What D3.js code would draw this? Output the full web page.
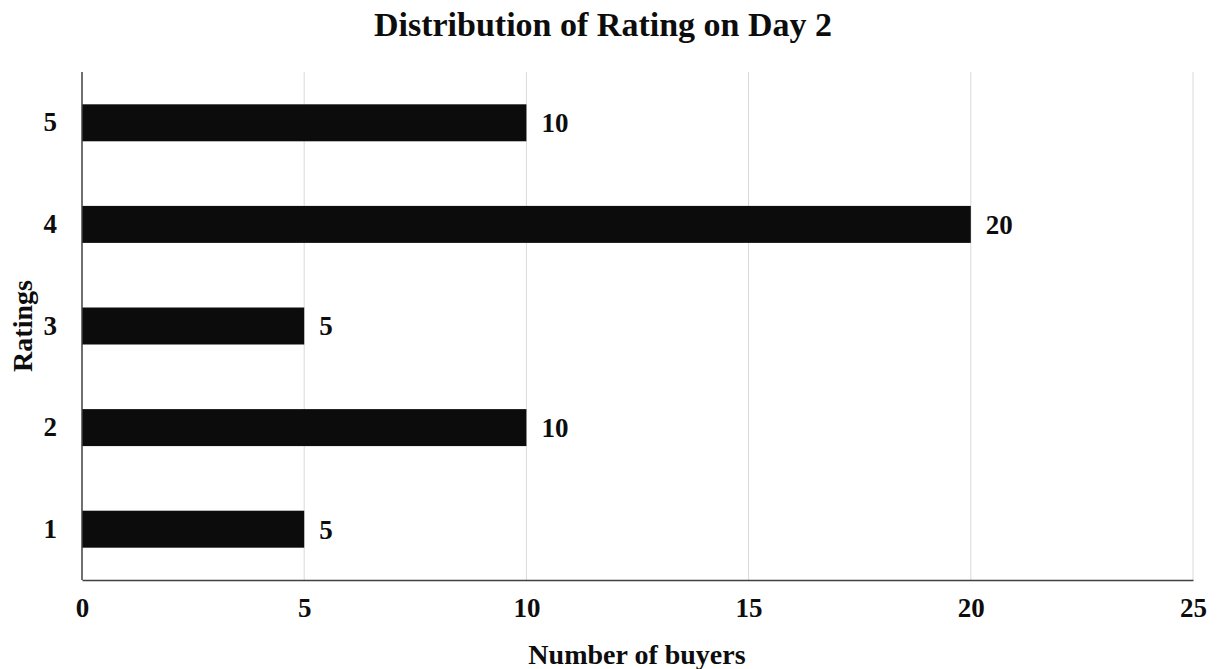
<!DOCTYPE html>
<html>
<head>
<meta charset="utf-8">
<script src="https://cdn.jsdelivr.net/npm/d3@7"></script>
<style>
  body { margin: 0; background: #fff; }
  svg text { font-family: "Liberation Serif", "Times New Roman", serif; font-weight: bold; fill: #0d0d0d; }
</style>
</head>
<body>
<svg id="chart"></svg>
<script>
const ratings = ["1", "2", "3", "4", "5"];
const buyers = [5, 10, 5, 20, 10];
const xTicks = [0, 5, 10, 15, 20, 25];

const width = 1218;
const height = 669;
const margin = { top: 72, right: 25, bottom: 89, left: 82 };

const svg = d3.select("#chart").attr("width", width).attr("height", height);

const x = d3.scaleLinear()
  .domain([0, 25])
  .range([margin.left, width - margin.right]);

// rating 5 on top, bars centred in equal slots
const y = d3.scaleBand()
  .domain(ratings.slice().reverse())
  .range([margin.top, height - margin.bottom])
  .paddingInner(0.636)
  .paddingOuter(0.318);

// gridlines
svg.append("g")
  .selectAll("line")
  .data(xTicks.slice(1))
  .enter()
  .append("line")
  .attr("x1", d => x(d))
  .attr("x2", d => x(d))
  .attr("y1", margin.top)
  .attr("y2", height - margin.bottom)
  .attr("stroke", "#d9d9d9")
  .attr("stroke-width", 1);

// bars
svg.append("g")
  .selectAll("rect")
  .data(ratings)
  .enter()
  .append("rect")
  .attr("x", x(0))
  .attr("y", d => y(d))
  .attr("width", (d, i) => x(buyers[i]) - x(0))
  .attr("height", y.bandwidth())
  .attr("fill", "#0c0c0c");

// value labels
svg.append("g")
  .selectAll("text")
  .data(ratings)
  .enter()
  .append("text")
  .attr("x", (d, i) => x(buyers[i]) + 15)
  .attr("y", d => y(d) + y.bandwidth() / 2)
  .attr("dy", "0.35em")
  .style("font-size", "27px")
  .text((d, i) => buyers[i]);

// x axis
const xAxis = svg.append("g")
  .attr("transform", `translate(0, ${height - margin.bottom})`)
  .call(d3.axisBottom(x).tickValues(xTicks).tickSize(0).tickPadding(18));
xAxis.select(".domain").attr("stroke", "#404040").attr("stroke-width", 1.5);
xAxis.selectAll("text")
  .attr("font-family", null)
  .style("font-size", "27px")
  .attr("fill", "#0d0d0d");

// y axis
const yAxis = svg.append("g")
  .attr("transform", `translate(${margin.left}, 0)`)
  .call(d3.axisLeft(y).tickSize(0).tickPadding(25));
yAxis.select(".domain")
  .attr("d", `M0,${margin.top}V${height - margin.bottom}`)
  .attr("stroke", "#404040")
  .attr("stroke-width", 1.5);
yAxis.selectAll("text")
  .attr("font-family", null)
  .style("font-size", "27px")
  .attr("fill", "#0d0d0d");

// title
svg.append("text")
  .attr("x", 603)
  .attr("y", 36)
  .attr("text-anchor", "middle")
  .style("font-size", "34px")
  .text("Distribution of Rating on Day 2");

// axis titles
svg.append("text")
  .attr("x", 637)
  .attr("y", 664)
  .attr("text-anchor", "middle")
  .style("font-size", "28px")
  .text("Number of buyers");

svg.append("text")
  .attr("transform", `translate(32, ${(margin.top + height - margin.bottom) / 2}) rotate(-90)`)
  .attr("text-anchor", "middle")
  .style("font-size", "28px")
  .text("Ratings");
</script>
</body>
</html>
